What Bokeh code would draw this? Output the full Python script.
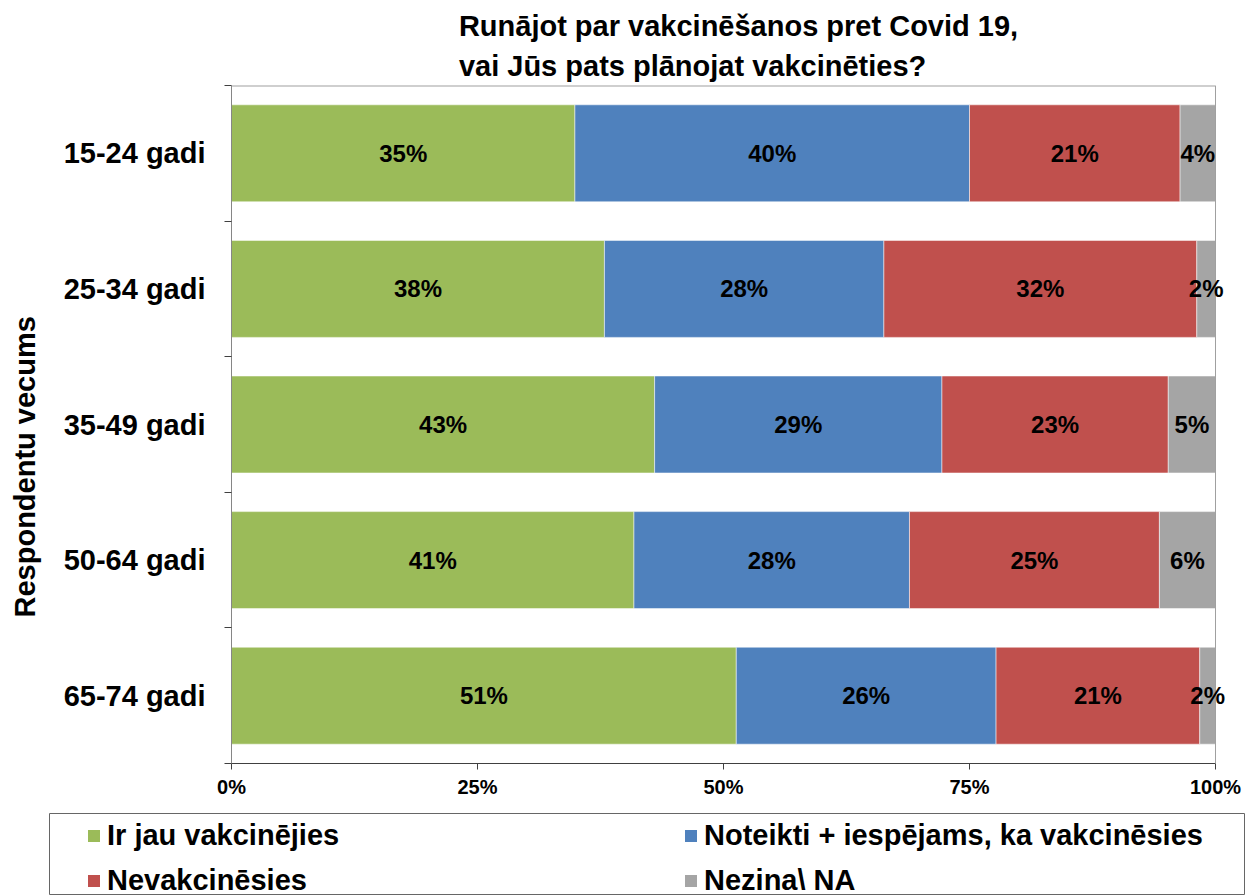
from bokeh.plotting import figure
from bokeh.layouts import column, row
from bokeh.models import (ColumnDataSource, FixedTicker, Legend, LegendItem, LabelSet, Title,
                          Range1d, PrintfTickFormatter, Span)
from bokeh.core.properties import value
from bokeh.embed import file_html
from bokeh.resources import INLINE

# ---------------- data ----------------
title_text = "Runājot par vakcinēšanos pret Covid 19,\nvai Jūs pats plānojat vakcinēties?"
y_title = "Respondentu vecums"
categories = ["15-24 gadi", "25-34 gadi", "35-49 gadi", "50-64 gadi", "65-74 gadi"]
series_names = ["Ir jau vakcinējies", "Noteikti + iespējams, ka vakcinēsies",
                "Nevakcinēsies", "Nezina\\ NA"]
ir_jau = [34.9, 37.9, 43.0, 40.9, 51.3]
noteikti = [40.1, 28.4, 29.2, 28.0, 26.4]
nevakcinesies = [21.4, 31.8, 23.0, 25.4, 20.7]
nezina = [3.6, 1.9, 4.8, 5.7, 1.6]
x_ticks = [0, 25, 50, 75, 100]
colors = ["#9BBB59", "#4F81BD", "#C0504D", "#A5A5A5"]

FONT = "Liberation Sans"
series = [ir_jau, noteikti, nevakcinesies, nezina]
keys = ["s0", "s1", "s2", "s3"]
n = len(categories)
ypos = [n - i - 0.5 for i in range(n)]

data = {"y": ypos, "cat": categories}
for k, s in zip(keys, series):
    data[k] = s
src = ColumnDataSource(data)

# label positions (segment mid-points)
lx, ly, lt = [], [], []
for i in range(n):
    left = 0.0
    for s in series:
        v = s[i]
        lx.append(left + v / 2.0)
        ly.append(ypos[i])
        lt.append(f"{round(v)}%")
        left += v
lab_src = ColumnDataSource(dict(x=lx, y=ly, t=lt))

# ---------------- layout constants ----------------
W = 1245
W_YT = 50                      # narrow strip holding the vertical axis title
FRAME_L, FRAME_R100 = 231, 1215
TOP, BOTTOM_MAIN, H_MAIN = 85, 42, 805
x_end = x_ticks[-1] * (W - FRAME_L) / (FRAME_R100 - FRAME_L)

# ---------------- axis-title strip ----------------
p3 = figure(width=W_YT, height=H_MAIN, output_backend="svg", toolbar_location=None,
            x_range=Range1d(0, 1), y_range=Range1d(0, 1),
            x_axis_location=None, y_axis_location=None,
            min_border_left=45, min_border_right=0, min_border_top=TOP, min_border_bottom=BOTTOM_MAIN)
p3.frame_align = False
p3.outline_line_color = None
p3.xgrid.visible = False
p3.ygrid.visible = False
p3.add_layout(Title(text=y_title, align="left", offset=146, standoff=12,
                    text_font=FONT, text_font_size="29px", text_font_style="bold",
                    text_color="black"), "left")

# ---------------- main figure ----------------
p = figure(width=W - W_YT, height=H_MAIN, output_backend="svg", toolbar_location=None,
           x_range=Range1d(0, x_end), y_range=Range1d(0, n),
           min_border_left=FRAME_L - W_YT, min_border_right=0,
           min_border_top=TOP, min_border_bottom=BOTTOM_MAIN)
p.frame_align = False
p.outline_line_color = None
p.xgrid.visible = False
p.ygrid.visible = False
p.background_fill_color = "white"
p.border_fill_color = "white"

title = Title(text=title_text, align="center", offset=0, standoff=8,
              text_font=FONT, text_font_size="29px", text_font_style="bold",
              text_color="black", text_line_height=1.25)
p.title = title

renderers = p.hbar_stack(keys, y="y", height=0.715, source=src, fill_color=colors,
                         line_color="white", line_alpha=0.5, line_width=1)

# plot-area border (top and right)
p.add_layout(Span(location=x_ticks[-1], dimension="height", line_color="#A0A0A0", line_width=1))
p.segment(x0=x_ticks[0], y0=n, x1=x_ticks[-1], y1=n, line_color="#A0A0A0", line_width=2)

labels = LabelSet(x="x", y="y", text="t", source=lab_src, text_align="center",
                  text_baseline="middle", text_font=value(FONT), text_font_size="24px",
                  text_font_style="bold", text_color="black")
p.add_layout(labels)

# x axis
xa = p.xaxis[0]
xa.ticker = FixedTicker(ticks=x_ticks)
xa.bounds = (x_ticks[0], x_ticks[-1])
xa.formatter = PrintfTickFormatter(format="%d%%")
xa.major_label_text_font = FONT
xa.major_label_text_font_size = "20px"
xa.major_label_text_font_style = "bold"
xa.major_label_text_color = "black"
xa.major_tick_out = 6
xa.major_tick_in = 0
xa.minor_tick_line_color = None
xa.axis_line_color = "#404040"
xa.major_tick_line_color = "#404040"
xa.major_label_standoff = 6

# y axis
ya = p.yaxis[0]
ya.ticker = FixedTicker(ticks=ypos, minor_ticks=list(range(n + 1)))
ya.major_label_overrides = {y: c for y, c in zip(ypos, categories)}
ya.major_tick_line_color = None
ya.major_tick_out = 0
ya.major_tick_in = 0
ya.minor_tick_out = 7
ya.minor_tick_in = 0
ya.minor_tick_line_color = "#404040"
ya.axis_line_color = "#868686"
ya.major_label_text_font = FONT
ya.major_label_text_font_size = "29px"
ya.major_label_text_font_style = "bold"
ya.major_label_text_color = "black"
ya.major_label_standoff = 19

# ---------------- legend figure ----------------
p2 = figure(width=W, height=90, output_backend="svg", toolbar_location=None,
            x_range=Range1d(-2, -1), y_range=Range1d(-2, -1),
            x_axis_location=None, y_axis_location=None,
            min_border_left=49, min_border_right=1, min_border_top=8, min_border_bottom=0)
p2.frame_align = False
p2.xgrid.visible = False
p2.ygrid.visible = False
p2.outline_line_color = "#666666"
p2.outline_line_width = 1
p2.background_fill_color = "white"
p2.border_fill_color = "white"

# legend proxies: same stacked series, hidden (only their legend glyphs are shown)
proxies = p2.hbar_stack(keys, y="y", height=0.715, source=src, fill_color=colors,
                        line_color=None, visible=False)
legend = Legend(items=[LegendItem(label=nm, renderers=[r]) for nm, r in zip(series_names, proxies)],
                location=(37, -2), orientation="horizontal", ncols=2,
                padding=0, margin=0, spacing=11, glyph_width=15, glyph_height=15,
                label_standoff=6, label_width=565, label_height=34,
                border_line_alpha=0, background_fill_alpha=0,
                inactive_fill_alpha=0,
                label_text_font=FONT, label_text_font_size="29px",
                label_text_font_style="bold", label_text_color="black")
p2.add_layout(legend)

layout = column(row(p3, p, spacing=0), p2, spacing=0)
open("out.html", "w").write(file_html(layout, INLINE))
